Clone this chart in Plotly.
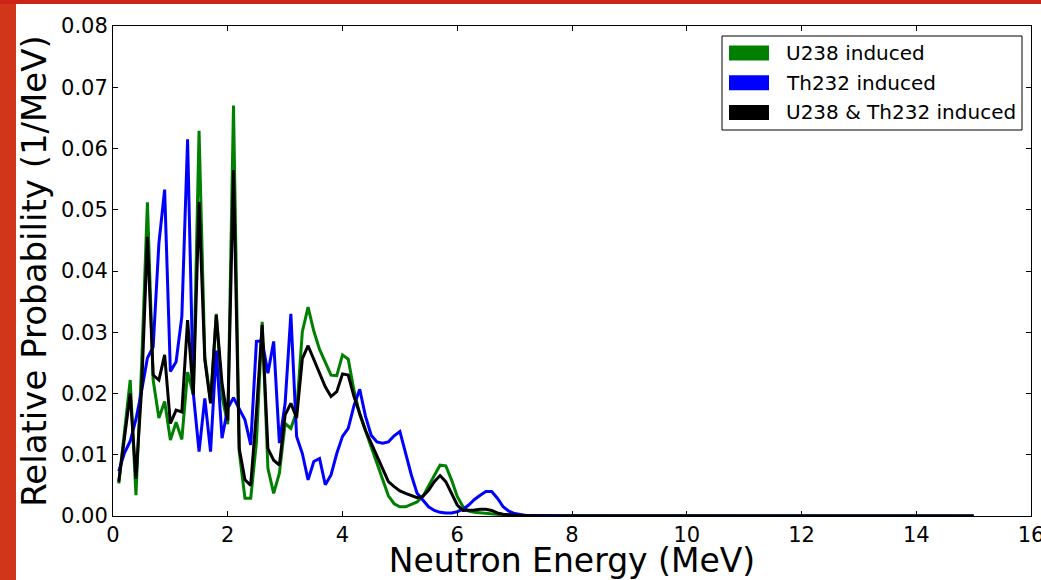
import plotly.graph_objects as go

# Neutron energy (MeV)
energy = [0.1, 0.2, 0.3, 0.4, 0.5, 0.6, 0.7, 0.8, 0.9, 1.0,
          1.1, 1.2, 1.3, 1.4, 1.5, 1.6, 1.7, 1.8, 1.9, 2.0,
          2.1, 2.2, 2.3, 2.4, 2.5, 2.6, 2.7, 2.8, 2.9, 3.0,
          3.1, 3.2, 3.3, 3.4, 3.5, 3.6, 3.7, 3.8, 3.9, 4.0,
          4.1, 4.2, 4.3, 4.4, 4.5, 4.6, 4.7, 4.8, 4.9, 5.0,
          5.1, 5.2, 5.3, 5.4, 5.5, 5.6, 5.7, 5.8, 5.9, 6.0,
          6.1, 6.2, 6.3, 6.4, 6.5, 6.6, 6.7, 6.8, 6.9, 7.0,
          7.1, 7.2, 7.5, 8.0, 9.0, 10.0, 11.0, 12.0, 13.0, 14.0, 15.0]

u238 = [0.0053, 0.0140, 0.0222, 0.0034, 0.0250, 0.0512, 0.0222, 0.0160, 0.0187, 0.0124,
        0.0153, 0.0125, 0.0235, 0.0198, 0.0629, 0.0260, 0.0187, 0.0330, 0.0195, 0.0150,
        0.0670, 0.0105, 0.0029, 0.0029, 0.0120, 0.0317, 0.0078, 0.0037, 0.0070, 0.0151,
        0.0143, 0.0170, 0.0301, 0.0341, 0.0302, 0.0272, 0.0252, 0.0230, 0.0229, 0.0263,
        0.0256, 0.0205, 0.0166, 0.0139, 0.0112, 0.0086, 0.0059, 0.0033, 0.0020, 0.0015,
        0.0015, 0.0019, 0.0023, 0.0032, 0.0048, 0.0066, 0.0083, 0.0082, 0.0059, 0.0032,
        0.0015, 0.0008, 0.0006, 0.0005, 0.0004, 0.0003, 0.0002, 0.0002, 0.0001, 0.0001,
        0.0001, 0.0001, 0.0000, 0.0000, 0.0000, 0.0000, 0.0000, 0.0000, 0.0000, 0.0000, 0.0000]

th232 = [0.0073, 0.0103, 0.0122, 0.0158, 0.0205, 0.0258, 0.0276, 0.0445, 0.0533, 0.0236,
         0.0252, 0.0326, 0.0615, 0.0200, 0.0105, 0.0192, 0.0105, 0.0270, 0.0127, 0.0176,
         0.0193, 0.0176, 0.0157, 0.0116, 0.0285, 0.0286, 0.0233, 0.0285, 0.0119, 0.0184,
         0.0330, 0.0130, 0.0102, 0.0059, 0.0089, 0.0094, 0.0051, 0.0067, 0.0102, 0.0130,
         0.0143, 0.0180, 0.0207, 0.0163, 0.0132, 0.0121, 0.0119, 0.0121, 0.0131, 0.0138,
         0.0100, 0.0067, 0.0037, 0.0025, 0.0015, 0.0009, 0.0006, 0.0005, 0.0005, 0.0007,
         0.0011, 0.0018, 0.0027, 0.0034, 0.0040, 0.0040, 0.0029, 0.0015, 0.0008, 0.0004,
         0.0002, 0.0001, 0.0001, 0.0000, 0.0000, 0.0000, 0.0000, 0.0000, 0.0000, 0.0000, 0.0000]

combined = [0.0056, 0.0130, 0.0200, 0.0061, 0.0210, 0.0456, 0.0230, 0.0222, 0.0263, 0.0151,
            0.0173, 0.0170, 0.0320, 0.0198, 0.0513, 0.0255, 0.0184, 0.0328, 0.0217, 0.0156,
            0.0565, 0.0110, 0.0059, 0.0050, 0.0170, 0.0312, 0.0110, 0.0091, 0.0083, 0.0165,
            0.0184, 0.0160, 0.0257, 0.0278, 0.0255, 0.0233, 0.0211, 0.0195, 0.0203, 0.0232,
            0.0230, 0.0195, 0.0168, 0.0140, 0.0119, 0.0097, 0.0075, 0.0056, 0.0048, 0.0041,
            0.0037, 0.0033, 0.0030, 0.0032, 0.0042, 0.0056, 0.0066, 0.0056, 0.0037, 0.0018,
            0.0009, 0.0009, 0.0010, 0.0011, 0.0011, 0.0009, 0.0005, 0.0003, 0.0002, 0.0001,
            0.0001, 0.0001, 0.0000, 0.0000, 0.0000, 0.0000, 0.0000, 0.0000, 0.0000, 0.0000, 0.0000]

series_names = ["U238 induced", "Th232 induced", "U238 & Th232 induced"]
series_colors = ["#008000", "#0000ff", "#000000"]
series_values = [u238, th232, combined]

W, H = 1041, 580
L, R, T, B = 113, 10, 26, 64
PW, PH = W - L - R, H - T - B


def px(x):
    return (x - L) / PW


def py(y):
    return (H - B - y) / PH


fig = go.Figure()
for name, color, vals in zip(series_names, series_colors, series_values):
    fig.add_trace(go.Scatter(x=energy, y=vals, mode="lines", name=name,
                             line=dict(color=color, width=3), showlegend=False))

font = "DejaVu Sans"
axis_common = dict(showline=True, linecolor="black", linewidth=1, mirror="ticks",
                   ticks="inside", ticklen=5, tickcolor="black", showgrid=False,
                   zeroline=False, ticklabeloverflow="allow", automargin=False,
                   tickfont=dict(family=font, size=21, color="black"))

fig.update_xaxes(range=[0, 16], dtick=2, tick0=0,
                 title=dict(text="Neutron Energy (MeV)", font=dict(family=font, size=33, color="black"),
                            standoff=8), **axis_common)
fig.update_yaxes(range=[0, 0.08], dtick=0.01, tick0=0, tickformat=".2f",
                 title=dict(text="Relative Probability (1/MeV)", font=dict(family=font, size=34, color="black"),
                            standoff=4), **axis_common)

shapes = []
# slide background strips
shapes.append(dict(type="rect", xref="paper", yref="paper", x0=px(0), x1=px(16), y0=py(H), y1=py(0),
                   fillcolor="#d2361a", line=dict(width=0), layer="below"))
shapes.append(dict(type="rect", xref="paper", yref="paper", x0=px(0), x1=px(W), y0=py(4), y1=py(0),
                   fillcolor="#cc2418", line=dict(width=0), layer="below"))
# legend box
shapes.append(dict(type="rect", xref="paper", yref="paper", x0=px(722), x1=px(1022), y0=py(130), y1=py(36),
                   fillcolor="white", line=dict(color="black", width=1)))
annotations = []
for i, (name, color) in enumerate(zip(series_names, series_colors)):
    yc = 53 + i * 29.7
    shapes.append(dict(type="rect", xref="paper", yref="paper", x0=px(729), x1=px(769),
                       y0=py(yc + 7.5), y1=py(yc - 7.5), fillcolor=color, line=dict(width=0)))
    annotations.append(dict(x=px(784), y=py(yc), xref="paper", yref="paper", text=name,
                            showarrow=False, xanchor="left", yanchor="middle",
                            font=dict(family=font, size=20, color="black")))

fig.update_layout(width=W, height=H, margin=dict(l=L, r=R, t=T, b=B),
                  paper_bgcolor="white", plot_bgcolor="white",
                  shapes=shapes, annotations=annotations, showlegend=False)

fig.write_html("out.html")
